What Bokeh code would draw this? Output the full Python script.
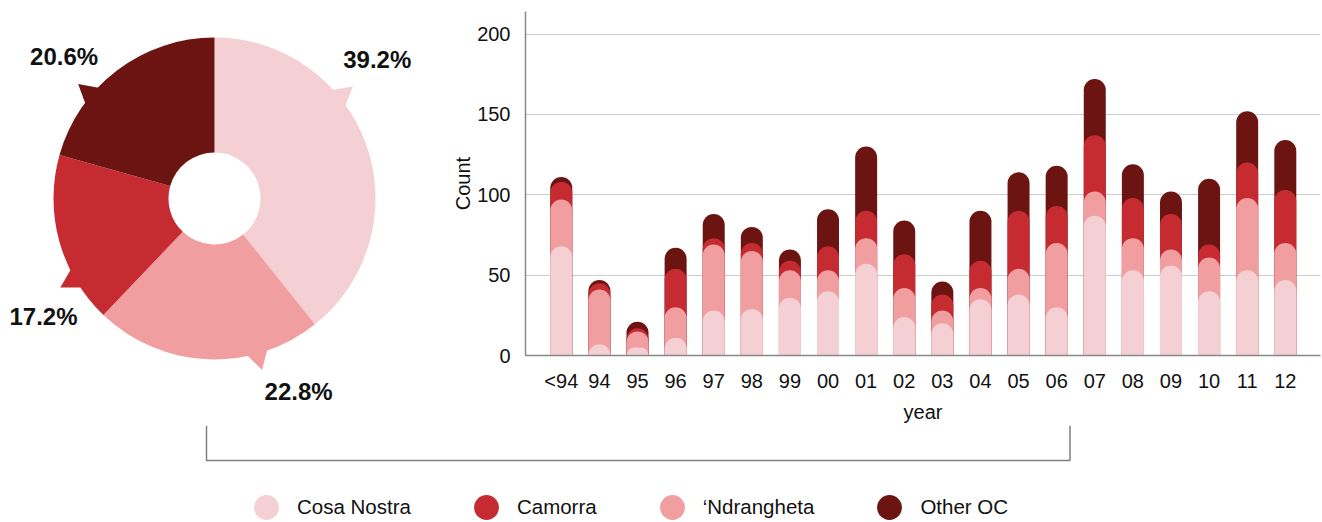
import numpy as np
from bokeh.plotting import figure
from bokeh.layouts import row, column
from bokeh.models import Range1d, FixedTicker, Legend, LegendItem
from bokeh.core.properties import value
from bokeh.embed import file_html
from bokeh.resources import INLINE

# ---------------- data ----------------
years = ["<94", "94", "95", "96", "97", "98", "99", "00", "01", "02",
         "03", "04", "05", "06", "07", "08", "09", "10", "11", "12"]
cosa_nostra = [68, 7, 5, 11, 28, 29, 36, 40, 57, 24, 20, 35, 38, 30, 87, 53, 56, 40, 53, 47]
ndrangheta = [29, 34, 10, 19, 41, 36, 17, 13, 16, 18, 8, 7, 16, 40, 15, 20, 10, 21, 45, 23]
camorra = [11, 4, 2, 24, 4, 5, 6, 15, 17, 21, 10, 17, 36, 23, 35, 25, 22, 8, 22, 33]
other_oc = [3, 2, 4, 13, 15, 10, 7, 23, 40, 21, 8, 31, 24, 25, 35, 21, 14, 41, 32, 31]

pie_names = ["Cosa Nostra", "\u2018Ndrangheta", "Camorra", "Other OC"]
pie_values = [39.2, 22.8, 17.2, 20.6]

legend_names = ["Cosa Nostra", "Camorra", "\u2018Ndrangheta", "Other OC"]
y_ticks = [0, 50, 100, 150, 200]

# ---------------- styles ----------------
COLORS = {
    "Cosa Nostra": "#F4CFD3",
    "Camorra": "#C52B31",
    "\u2018Ndrangheta": "#F09EA0",
    "Other OC": "#6B1412",
}
FONT = "Liberation Sans"
TXT = "#111111"
AXIS = "#888888"

W_TOTAL = 1322
H_TOP = 425
H_BOT = 97
W_PIE = 440
W_BAR = W_TOTAL - W_PIE


def no_align(p):
    if hasattr(p, "frame_align"):
        p.frame_align = False


# ---------------- pie ----------------
pie = figure(width=W_PIE, height=H_TOP, x_range=Range1d(0, W_PIE), y_range=Range1d(0, H_TOP),
             output_backend="svg", toolbar_location=None, min_border=0,
             x_axis_location=None, y_axis_location=None, outline_line_color=None)
pie.grid.visible = False
no_align(pie)

cx, cy = 214, H_TOP - 198
R_OUT, R_IN = 161, 46
total = sum(pie_values)
cum = np.cumsum([0] + pie_values) / total * 2 * np.pi
start_a = np.pi / 2 - cum[:-1]
end_a = np.pi / 2 - cum[1:]
pie_colors = [COLORS[n] for n in pie_names]

# callout pointers (clockwise degrees from 12 o'clock)
pointer_deg = [51, 164.5, 240, 310]
label_deg = [49.5, 156.5, 235.3, 313.4]
label_r = [214, 211, 208, 207]
TIP_R, BASE_R, HALF = 178, 157, 4.5
xs, ys = [], []
for d in pointer_deg:
    t = np.radians(d)
    t0 = np.radians(d - HALF)
    t1 = np.radians(d + HALF)
    xs.append([cx + BASE_R * np.sin(t0), cx + TIP_R * np.sin(t), cx + BASE_R * np.sin(t1)])
    ys.append([cy + BASE_R * np.cos(t0), cy + TIP_R * np.cos(t), cy + BASE_R * np.cos(t1)])
pie.patches(xs=xs, ys=ys, fill_color=pie_colors, line_color=None)

pie.annular_wedge(x=cx, y=cy, inner_radius=R_IN, outer_radius=R_OUT,
                  start_angle=list(start_a), end_angle=list(end_a), direction="clock",
                  fill_color=pie_colors, line_color=None)

lx = [cx + r * np.sin(np.radians(d)) for d, r in zip(label_deg, label_r)]
ly = [cy + r * np.cos(np.radians(d)) for d, r in zip(label_deg, label_r)]
pie.text(x=lx, y=ly, text=[f"{v:.1f}%" for v in pie_values], text_align="center",
         text_baseline="middle", text_font=value(FONT), text_font_style="bold",
         text_font_size="24px", text_color=TXT)

# ---------------- stacked bars ----------------
bar = figure(width=W_BAR, height=H_TOP, x_range=Range1d(-0.9395, 19.924), y_range=Range1d(0, 214),
             output_backend="svg", toolbar_location=None,
             min_border_left=85, min_border_right=2, min_border_top=11, min_border_bottom=70,
             outline_line_color=None)
no_align(bar)

xi = np.arange(len(years))
c1 = np.array(cosa_nostra)
c2 = c1 + np.array(ndrangheta)
c3 = c2 + np.array(camorra)
c4 = c3 + np.array(other_oc)
for top, name in [(c4, "Other OC"), (c3, "Camorra"), (c2, "\u2018Ndrangheta"), (c1, "Cosa Nostra")]:
    bar.vbar(x=xi, top=top, bottom=0, width=0.577, fill_color=COLORS[name], line_color=None,
             border_radius=(11, 11, 0, 0))

bar.xaxis.ticker = FixedTicker(ticks=list(range(len(years))))
bar.xaxis.major_label_overrides = {i: y for i, y in enumerate(years)}
bar.yaxis.ticker = FixedTicker(ticks=y_ticks)
bar.xgrid.visible = False
bar.ygrid.grid_line_color = "#cccccc"
bar.ygrid.grid_line_width = 1.2

for ax in (bar.xaxis[0], bar.yaxis[0]):
    ax.axis_line_color = AXIS
    ax.axis_line_width = 1.5
    ax.major_tick_line_color = None
    ax.minor_tick_line_color = None
    ax.major_label_text_font = FONT
    ax.major_label_text_font_size = "20px"
    ax.major_label_text_color = TXT
    ax.axis_label_text_font = FONT
    ax.axis_label_text_font_size = "20px"
    ax.axis_label_text_font_style = "normal"
    ax.axis_label_text_color = TXT

bar.xaxis.axis_label = "year"
bar.yaxis.axis_label = "Count"
bar.xaxis.major_label_standoff = 8
bar.xaxis.axis_label_standoff = 6
bar.yaxis.major_label_standoff = 9
bar.yaxis.axis_label_standoff = 0

# ---------------- bracket + legend ----------------
bot = figure(width=W_TOTAL, height=H_BOT, x_range=Range1d(0, W_TOTAL), y_range=Range1d(H_BOT, 0),
             output_backend="svg", toolbar_location=None, min_border=0,
             x_axis_location=None, y_axis_location=None, outline_line_color=None)
bot.grid.visible = False
no_align(bot)
bot.line(x=[206, 206, 1069.5, 1069.5], y=[0, 35, 35, 0], line_color="#808080", line_width=1.5)

items = []
nan = float("nan")
for name in legend_names:
    r = bot.scatter(x=[nan], y=[nan], marker="circle", size=25, fill_color=COLORS[name], line_color=None)
    items.append(LegendItem(label=name, renderers=[r]))
legend = Legend(items=items, orientation="horizontal", location=(235, -16),
                glyph_width=62, glyph_height=62, label_standoff=0, spacing=44,
                padding=0, margin=0, border_line_color=None, background_fill_alpha=0,
                label_text_font=FONT, label_text_font_size="20.5px", label_text_color=TXT)
bot.add_layout(legend)

layout = column(row(pie, bar, spacing=0), bot, spacing=0)
open("out.html", "w").write(file_html(layout, INLINE))
